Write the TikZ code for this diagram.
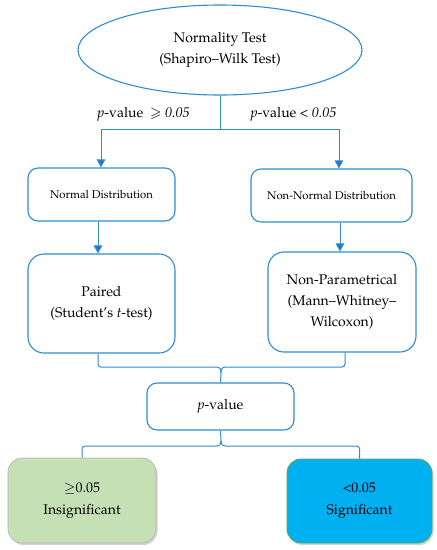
\documentclass[tikz,border=0pt]{standalone}
\usepackage[T1]{fontenc}
\usepackage{mathpazo}
\usepackage{amssymb}
\usetikzlibrary{shapes.geometric,arrows.meta,shadows}
\definecolor{lineblue}{RGB}{46,140,206}
\definecolor{tipblue}{RGB}{30,120,200}
\definecolor{siggreen}{RGB}{197,224,180}
\definecolor{sigblue}{RGB}{0,176,240}
\definecolor{sigborder}{RGB}{90,170,90}
\tikzset{
  base/.style={draw=lineblue, line width=1.1pt, align=center, inner sep=0pt, font=\fontsize{14}{21}\selectfont},
  smallbox/.style={base, rectangle, rounded corners=10pt, font=\fontsize{11.3}{14}\selectfont},
  bigbox/.style={base, rectangle, rounded corners=16pt},
  resbox/.style={rectangle, rounded corners=14pt, align=center, inner sep=0pt, font=\fontsize{14}{22}\selectfont,
     drop shadow={opacity=0.35, shadow xshift=1.5pt, shadow yshift=-2pt}},
  conn/.style={draw=lineblue, line width=1pt},
  arr/.style={conn, -{Triangle[length=8pt,width=8.5pt,fill=tipblue]}},
  lbl/.style={font=\fontsize{14}{16}\selectfont}
}
\begin{document}
\begin{tikzpicture}[x=1pt,y=-1pt]
\useasboundingbox (0,0) rectangle (437,550);
\node[base, ellipse, minimum width=284, minimum height=90] (ell) at (220,50) {Normality Test\\(Shapiro--Wilk Test)};
\node[smallbox, minimum width=147, minimum height=53] (nd) at (101.5,194.5) {Normal Distribution};
\node[smallbox, minimum width=161, minimum height=53] (nnd) at (331.5,195.5) {Non-Normal Distribution};
\node[bigbox, minimum width=147, minimum height=99] (pair) at (101.5,303.5) {Paired\\(Student's \textit{t}-test)};
\node[bigbox, minimum width=148, minimum height=100] (npar) at (342,302) {Non-Parametrical\\(Mann--Whitney--\\Wilcoxon)};
\node[smallbox, font=\fontsize{14}{16}\selectfont, minimum width=147, minimum height=47] (pv) at (220.5,406.5) {\textit{p}-value};
\node[resbox, fill=siggreen, draw=gray!60, line width=0.6pt, minimum width=148, minimum height=85] (ins) at (82,500.5) {$\geq$0.05\\Insignificant};
\node[resbox, fill=sigblue, draw=sigborder, line width=0.9pt, minimum width=145, minimum height=84] (sig) at (359.5,501) {<0.05\\Significant};

\node[lbl] (l1) at (143.5,114) {\textit{p}-value \ $\geqslant$ \textit{0.05}};
\node[lbl] (l2) at (293.5,114) {\textit{p}-value < \textit{0.05}};

% top split
\draw[conn] (ell.south) -- ++(0,34) coordinate (j1);
\draw[arr] (j1) -| ([xshift=-0.5pt]nd.north);
\draw[arr] (j1) -| ([xshift=7.5pt]nnd.north);
% middle arrows
\draw[arr] ([xshift=-3.5pt]nd.south) -- ([xshift=-3.5pt]pair.north);
\draw[arr] ([xshift=8.5pt]nnd.south) -- ([xshift=-2pt]npar.north);
% upper brace
\draw[conn, rounded corners=3pt] ([xshift=-3.5pt]pair.south) |- (216,367);
\draw[conn, rounded corners=3pt] ([xshift=3pt]npar.south) |- (226,367);
\draw[conn] (216,367) .. controls (220,367) and (221,369) .. (221,373) coordinate (b1);
\draw[conn] (226,367) .. controls (222,367) and (221,369) .. (221,373);
\draw[conn] (b1) -- (pv.north);
% lower brace
\draw[conn] (pv.south) -- (221,441) coordinate (b2);
\draw[conn] (b2) .. controls (221,444) and (220,446) .. (216,446) coordinate (b3);
\draw[conn] (b2) .. controls (221,444) and (222,446) .. (226,446) coordinate (b4);
\draw[conn, rounded corners=3pt] (b3) -| (ins.north);
\draw[conn, rounded corners=3pt] (b4) -| (sig.north);
\end{tikzpicture}
\end{document}
